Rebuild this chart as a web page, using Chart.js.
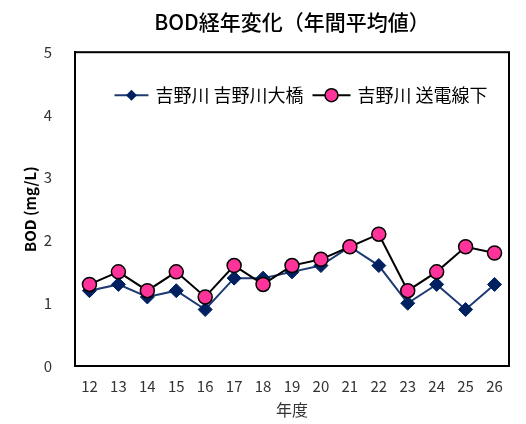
<!DOCTYPE html>
<html>
<head>
<meta charset="utf-8">
<script src="https://cdn.jsdelivr.net/npm/chart.js@4"></script>
<style>
  html, body { margin: 0; padding: 0; background: #fff; }
  #wrap { width: 526px; height: 424px; }
</style>
</head>
<body>
<div id="wrap"><canvas id="bodChart" width="526" height="424"></canvas></div>
<script>
// data
const years = ['12', '13', '14', '15', '16', '17', '18', '19', '20', '21', '22', '23', '24', '25', '26'];
const ohashi = [1.2, 1.3, 1.1, 1.2, 0.9, 1.4, 1.4, 1.5, 1.6, 1.9, 1.6, 1.0, 1.3, 0.9, 1.3];
const densen = [1.3, 1.5, 1.2, 1.5, 1.1, 1.6, 1.3, 1.6, 1.7, 1.9, 2.1, 1.2, 1.5, 1.9, 1.8];
const seriesNames = ['吉野川 吉野川大橋', '吉野川 送電線下'];
const yTicks = [0, 1, 2, 3, 4, 5];

const FONT = "'Noto Sans CJK JP', 'Noto Sans', sans-serif";
const navy = '#002060';
const navyLine = '#1f3a73';
const pink = '#ff3399';

/**
 * Legend drawn inside the plot box: line + marker, then the label
 */
function drawSwatch(ctx, kind, x, y, w) {
  ctx.save();
  ctx.lineWidth = 2;
  ctx.strokeStyle = kind === 'diamond' ? navyLine : '#000';
  ctx.beginPath();
  ctx.moveTo(x, y);
  ctx.lineTo(x + w, y);
  ctx.stroke();
  const cx = x + w / 2;
  if (kind === 'diamond') {
    ctx.fillStyle = navy;
    ctx.beginPath();
    ctx.moveTo(cx, y - 5.5);
    ctx.lineTo(cx + 5.5, y);
    ctx.lineTo(cx, y + 5.5);
    ctx.lineTo(cx - 5.5, y);
    ctx.closePath();
    ctx.fill();
  } else {
    ctx.fillStyle = pink;
    ctx.lineWidth = 1.5;
    ctx.beginPath();
    ctx.arc(cx, y, 6.5, 0, Math.PI * 2);
    ctx.fill();
    ctx.stroke();
  }
  ctx.restore();
}

const innerLegend = {
  id: 'innerLegend',
  afterDatasetsDraw(chart) {
    const a = chart.chartArea;
    const ctx = chart.ctx;
    const kinds = ['diamond', 'circle'];
    const swatchW = [34, 38];
    const gap = 7;
    const itemGap = 9;
    ctx.save();
    ctx.font = `18px ${FONT}`;
    ctx.textBaseline = 'middle';
    ctx.fillStyle = '#000';
    const widths = seriesNames.map((n, i) => swatchW[i] + gap + ctx.measureText(n).width);
    const total = widths[0] + itemGap + widths[1];
    let x = (a.left + a.right) / 2 + 9 - total / 2;
    const y = a.top + 43;
    seriesNames.forEach((name, i) => {
      drawSwatch(ctx, kinds[i], x, y, swatchW[i]);
      ctx.fillText(name, x + swatchW[i] + gap, y);
      x += widths[i] + itemGap;
    });
    ctx.restore();
  }
};

// box round the plot area
const frame = {
  id: 'frame',
  afterDatasetsDraw(chart) {
    const a = chart.chartArea;
    const ctx = chart.ctx;
    ctx.save();
    ctx.strokeStyle = '#000';
    ctx.lineWidth = 2;
    ctx.strokeRect(a.left, a.top, a.right - a.left, a.bottom - a.top);
    ctx.restore();
  }
};

new Chart(document.getElementById('bodChart'), {
  type: 'line',
  data: {
    labels: years,
    datasets: [
      {
        label: seriesNames[0],
        data: ohashi,
        borderColor: navyLine,
        borderWidth: 2,
        pointStyle: 'rectRot',
        pointRadius: 7,
        pointBackgroundColor: navy,
        pointBorderColor: navy,
        pointBorderWidth: 1,
        tension: 0,
        order: 1,
      },
      {
        label: seriesNames[1],
        data: densen,
        borderColor: '#000',
        borderWidth: 2,
        pointStyle: 'circle',
        pointRadius: 7,
        pointBackgroundColor: pink,
        pointBorderColor: '#000',
        pointBorderWidth: 1.5,
        tension: 0,
        order: 0,
      },
    ],
  },
  options: {
    responsive: false,
    animation: false,
    events: [],
    layout: { padding: { left: 0, right: 17, top: 0, bottom: 0 } },
    plugins: {
      title: {
        display: true,
        fullSize: false,
        text: 'BOD経年変化（年間平均値）',
        color: '#000',
        font: { family: FONT, size: 21, weight: 500 },
        padding: { top: 9, bottom: 18 },
      },
      legend: { display: false },
      tooltip: { enabled: false },
    },
    scales: {
      x: {
        offset: true,
        grid: { display: false },
        border: { color: '#000', width: 2 },
        ticks: { color: '#333', font: { family: FONT, size: 15 }, padding: 3, maxRotation: 0 },
        title: {
          display: true,
          text: '年度',
          color: '#333',
          font: { family: FONT, size: 16 },
          padding: { top: 0, bottom: 4 },
        },
        afterFit: s => { s.height = 58; },
      },
      y: {
        min: 0,
        max: 5,
        afterBuildTicks: s => { s.ticks = yTicks.map(v => ({ value: v })); },
        grid: { display: false },
        border: { color: '#000', width: 2 },
        ticks: { color: '#333', font: { family: FONT, size: 15 }, padding: 15 },
        title: {
          display: true,
          text: 'BOD (mg/L)',
          color: '#000',
          font: { family: FONT, size: 15, weight: 'bold' },
          padding: { top: 21, bottom: 0 },
        },
        afterFit: s => { s.width = 75; },
      },
    },
  },
  plugins: [frame, innerLegend],
});
</script>
</body>
</html>
